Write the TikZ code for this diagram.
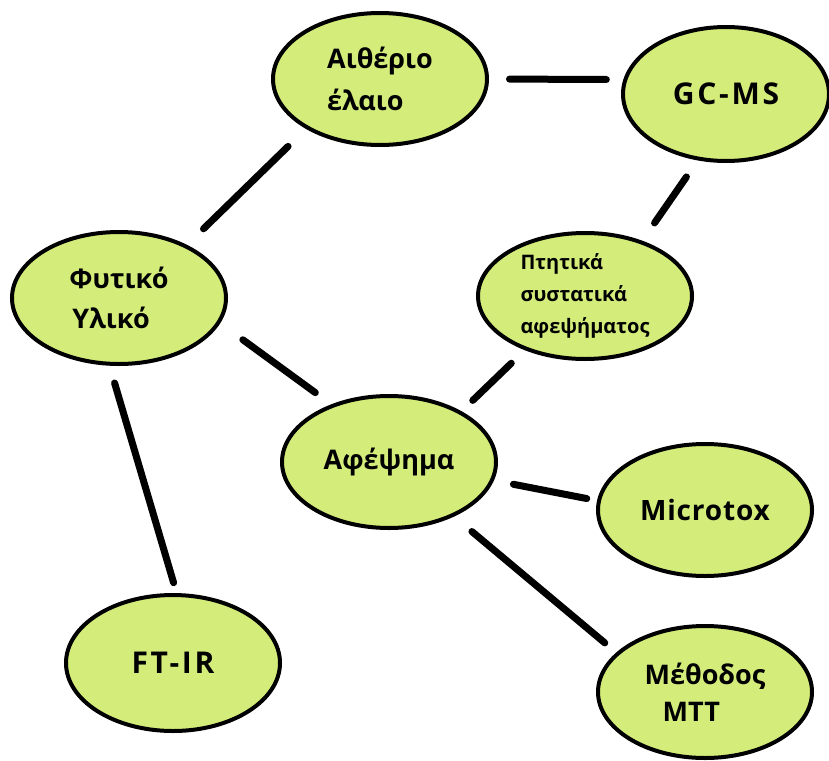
\documentclass[tikz,border=0pt]{standalone}
\usepackage{fontspec}
\setmainfont{Open Sans}
\usetikzlibrary{shapes.geometric}
\definecolor{fillg}{RGB}{212,237,122}
\tikzset{
  bub/.style={ellipse, draw=black, line width=4pt, fill=fillg,
    minimum width=214pt, minimum height=132pt, inner sep=0pt, align=left,
    font=\bfseries\fontsize{27}{42}\selectfont},
  latin/.style={font=\bfseries\fontsize{30}{36}\selectfont\addfontfeature{LetterSpace=9}},
  conn/.style={line width=7pt, line cap=round, draw=black}
}
\begin{document}
\begin{tikzpicture}[x=1pt,y=-1pt]
\useasboundingbox (0,0) rectangle (829,760);
\node[bub] (aith) at (380,79) {Αιθέριο\\έλαιο};
\node[bub, latin, minimum width=206pt, minimum height=134pt] (gcms) at (726,94) {GC-MS};
\node[bub, font=\bfseries\fontsize{27}{40}\selectfont] (fyt) at (119,298) {Φυτικό\\\hspace*{3pt}Υλικό};
\node[bub, minimum height=126pt, font=\bfseries\fontsize{20}{32}\selectfont] (ptit) at (585,296) {Πτητικά\\συστατικά\\αφεψήματος};
\node[bub] (afep) at (389,462) {Αφέψημα};
\node[bub, font=\bfseries\fontsize{28}{34}\selectfont\addfontfeature{LetterSpace=3}] (micro) at (705,510) {Microtox};
\node[bub, latin, minimum height=136pt] (ftir) at (173,663) {FT-IR};
\node[bub, font=\bfseries\fontsize{27}{37}\selectfont] (mtt) at (705,692) {Μέθοδος\\\hspace*{18pt}MTT};

\draw[conn, shorten <=20.5pt, shorten >=17pt] (aith.0) -- (gcms.172);
\draw[conn, shorten <=25pt, shorten >=23pt] (aith.214.4) -- (fyt.38.6);
\draw[conn, shorten <=20pt, shorten >=21.6pt] (gcms.247.1) -- (ptit.44.3);
\draw[conn, shorten <=28pt, shorten >=19.8pt] (fyt.346.2) -- (afep.135.4);
\draw[conn, shorten <=18pt, shorten >=10.8pt] (fyt.262.65) -- (ftir.87.6);
\draw[conn, shorten <=18.8pt, shorten >=15.6pt] (ptit.222.7) -- (afep.35.1);
\draw[conn, shorten <=19.9pt, shorten >=10.5pt] (afep.350) -- (micro.175.5);
\draw[conn, shorten <=23.3pt, shorten >=15pt] (afep.320.1) -- (mtt.156.3);
\end{tikzpicture}
\end{document}
